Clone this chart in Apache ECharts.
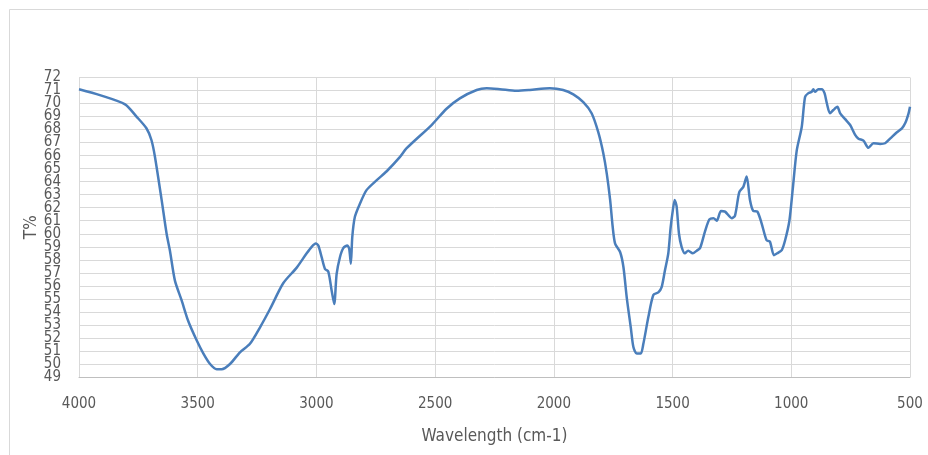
<!DOCTYPE html>
<html>
<head>
<meta charset="utf-8">
<script src="https://cdn.jsdelivr.net/npm/echarts@6/dist/echarts.min.js"></script>
<style>html,body{margin:0;padding:0;background:#fff;}#c{width:928px;height:455px;}</style>
</head>
<body>
<div id="c"></div>
<script>
const wavenumbers = [4000,3912,3806,3757,3716,3695,3680,3652,3631,3617,3596,3568,3540,3504,3476,3448,3420,3399,3364,3322,3280,3238,3196,3140,3083,3041,3020,3003,2992,2978,2964,2950,2936,2925,2915,2901,2887,2870,2862,2855,2849,2838,2817,2789,2747,2704,2648,2621,2515,2452,2396,2325,2283,2227,2157,2101,2017,1961,1918,1876,1841,1813,1792,1777,1763,1752,1742,1721,1707,1693,1676,1665,1651,1634,1623,1602,1581,1560,1546,1532,1518,1508,1499,1491,1483,1473,1462,1448,1434,1415,1398,1384,1363,1345,1328,1314,1296,1279,1251,1237,1219,1202,1188,1174,1160,1143,1125,1104,1090,1073,1059,1040,1026,1008,994,977,956,942,928,914,907,900,886,872,860,850,837,823,806,794,773,752,731,717,696,675,654,626,605,584,555,534,520,506,500];
const transmittance = [71.1,70.65,69.94,68.98,68.1,67.2,65.9,62.6,60.0,58.7,56.4,54.9,53.3,51.8,50.8,50.0,49.6,49.6,50.0,50.9,51.55,52.8,54.2,56.2,57.4,58.5,59.0,59.25,59.1,58.2,57.3,57.1,55.65,54.6,56.9,58.2,58.9,59.1,58.85,57.7,59.75,61.3,62.3,63.35,64.1,64.8,65.9,66.55,68.35,69.6,70.4,71.04,71.17,71.1,70.98,71.04,71.17,71.04,70.7,70.1,69.25,67.8,66.2,64.6,62.6,60.5,59.25,58.6,57.45,55.1,52.8,51.3,50.8,50.8,51.55,53.6,55.3,55.5,55.9,57.2,58.5,60.5,61.8,62.6,62.1,60.0,59.0,58.5,58.7,58.5,58.7,58.9,60.2,61.1,61.2,61.0,61.75,61.7,61.2,61.4,63.2,63.6,64.4,62.6,61.75,61.7,60.8,59.5,59.4,58.35,58.5,58.75,59.5,61.0,63.4,66.4,68.2,70.5,70.8,70.9,71.1,70.9,71.1,71.1,70.8,70.0,69.25,69.5,69.75,69.25,68.8,68.35,67.6,67.3,67.15,66.6,66.95,66.9,66.95,67.3,67.8,68.1,68.5,69.25,69.75];
const xTicks = [4000,3500,3000,2500,2000,1500,1000,500];
const yMin = 49, yMax = 72;
const yEdgeNeighbours = [yMin + 1, yMax - 1];

const chart = echarts.init(document.getElementById('c'), null, {renderer:'canvas'});
const font = '"DejaVu Sans Condensed","Liberation Sans Narrow","Open Sans",sans-serif';
const yLabelStyle = {color:'#595959',fontSize:15,fontFamily:font,margin:18};
chart.setOption({
  animation:false,
  backgroundColor:'#fff',
  graphic:[{type:'rect',shape:{x:9.5,y:9.5,width:940,height:460},style:{fill:'none',stroke:'#d9d9d9',lineWidth:1},silent:true}],
  grid:{left:79,right:18,top:77.5,bottom:78,containLabel:false},
  xAxis:{type:'value',min:500,max:4000,interval:500,inverse:true,
    name:'Wavelength (cm-1)',nameLocation:'middle',nameGap:51,
    nameTextStyle:{color:'#595959',fontSize:17,fontFamily:font},
    axisLine:{show:true,lineStyle:{color:'#bfbfbf',width:1}},
    axisTick:{show:false},
    axisLabel:{color:'#595959',fontSize:15,fontFamily:font,margin:20,
      showMinLabel:true,showMaxLabel:true,
      formatter:v=>xTicks.includes(v)?String(v):''},
    splitLine:{show:true,lineStyle:{color:'#d9d9d9',width:1}}},
  yAxis:[{type:'value',min:yMin,max:yMax,interval:1,
    name:'T%',nameLocation:'middle',nameGap:39,nameRotate:90,nameMoveOverlap:false,
    nameTextStyle:{color:'#595959',fontSize:17,fontFamily:font},
    axisLine:{show:false},axisTick:{show:false},
    axisLabel:Object.assign({showMinLabel:true,showMaxLabel:true},yLabelStyle),
    splitLine:{show:true,lineStyle:{color:'#d9d9d9',width:1}}},
   {type:'value',min:yMin,max:yMax,interval:1,position:'left',
    axisLine:{show:false},axisTick:{show:false},splitLine:{show:false},
    axisLabel:Object.assign({showMinLabel:false,showMaxLabel:false,
      formatter:v=>yEdgeNeighbours.includes(v)?String(v):''},yLabelStyle)}],
  series:[{type:'line',data:wavenumbers.map((w,i)=>[w,transmittance[i]]),
    showSymbol:false,smooth:0.25,
    lineStyle:{color:'#4a7ebb',width:2.5},itemStyle:{color:'#4a7ebb'}}]
});
</script>
</body>
</html>
